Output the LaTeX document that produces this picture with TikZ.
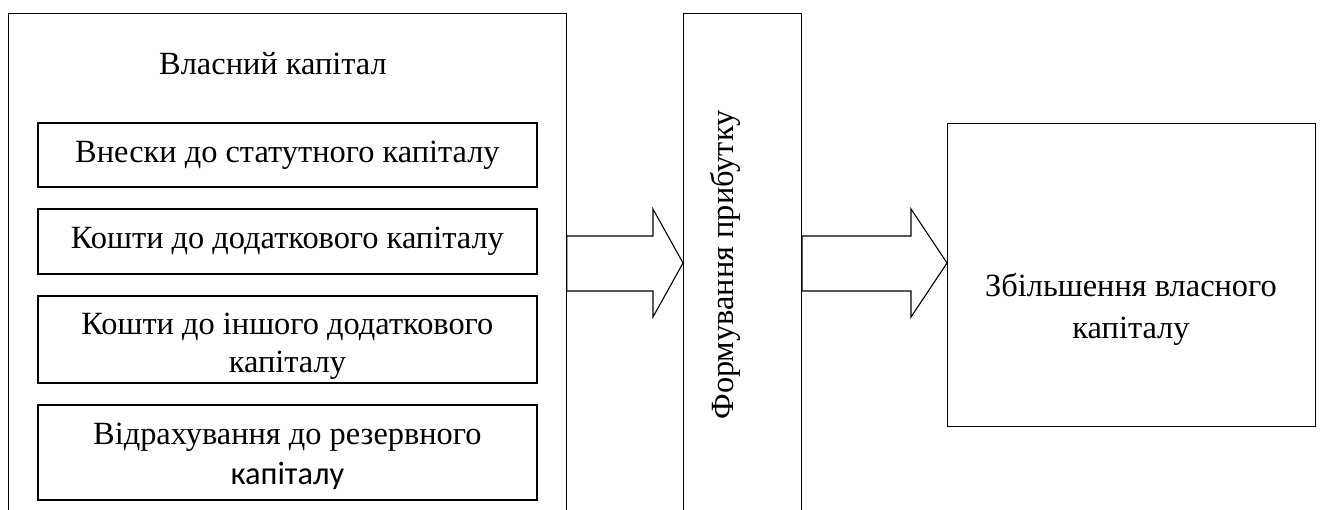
\documentclass[tikz,border=0pt]{standalone}
\usepackage{fontspec}
\setmainfont{Liberation Serif}
\newfontfamily\carlito{Carlito}
\usetikzlibrary{positioning,calc}
\begin{document}
\begin{tikzpicture}[x=1pt,y=-1pt,
		khung/.style={draw,line width=1.1pt,inner sep=0pt},
		hop/.style={draw,line width=1.6pt,minimum width=499pt,inner sep=0pt},
		chu/.style={font=\fontsize{32.4}{38}\selectfont,align=center,inner sep=0pt}]
			\clip (0,0) rectangle (1320,509);
			\def\muiten(#1,#2,#3){%mũi tên khối từ #1 sang #2
				\draw[line width=1.1pt] (#1.east |- tren) -- ($(#2.west |- tren)+(-#3,0)$) -- ++(0,-27)
				-- (#2.west |- giua) -- ($(#2.west |- duoi)+(-#3,26)$) -- ++(0,-26) -- (#1.east |- duoi) -- cycle;
			}
			\coordinate (tren) at (0,236);
			\coordinate (giua) at (0,263);
			\coordinate (duoi) at (0,291);
			% khung vốn chủ sở hữu
			\node[khung,minimum width=558pt,minimum height=560pt,anchor=north west] (von) at (7.7,13) {};
			\node[chu] (tenvon) at (273,64) {Власний капітал};
			\foreach \ten/\y/\h/\d/\noidung in {
				hop1/154.9/64.3/0/{Внески до статутного капіталу},
				hop2/241.5/65/0/{Кошти до додаткового капіталу},
				hop3/339.5/87/7/{Кошти до іншого додаткового\\капіталу},
				hop4/452.5/95/4/{Відрахування до резервного\\[2pt]{\carlito капіталу}}}{
				\node[hop,minimum height=\h pt] (\ten) at (287.4,\y) {};
				\node[chu] (chu\ten) at ([yshift=-\d pt]\ten.center) {\noidung};
			}
			% khung lợi nhuận
			\node[khung,minimum width=118pt,minimum height=560pt,anchor=north west] (loinhuan) at (683,13) {};
			\node[chu,rotate=90] (tenloinhuan) at (725,265) {Формування прибутку};
			% khung kết quả
			\node[khung,minimum width=368pt,minimum height=303.5pt,anchor=north west] (tang) at (947,122.5) {};
			\node[chu,font=\fontsize{32.4}{42}\selectfont] (tentang) at (1131,309) {Збільшення власного\\капіталу};
			\muiten(von,loinhuan,30)
			\muiten(loinhuan,tang,36)
		\end{tikzpicture}
\end{document}
